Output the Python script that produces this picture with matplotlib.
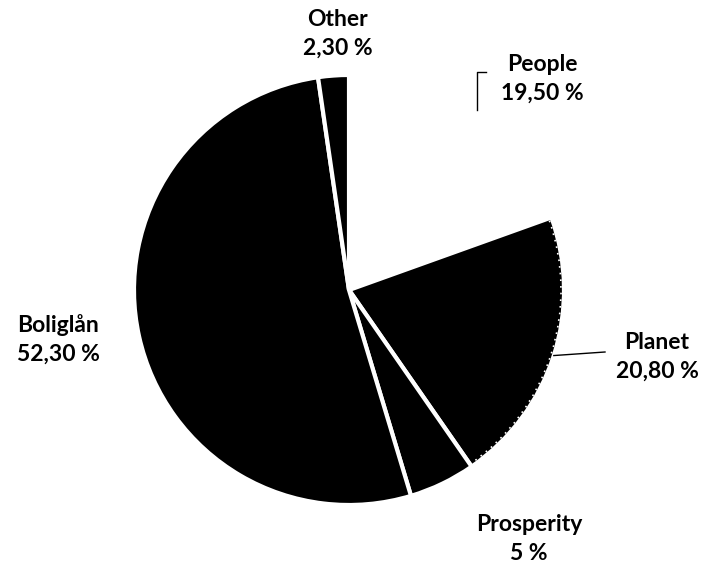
import numpy as np
import matplotlib.pyplot as plt
from matplotlib.patches import Wedge

# data
categories = ['People', 'Planet', 'Prosperity', 'Boliglån', 'Other']
shares = [19.5, 20.8, 5.0, 52.3, 2.3]
share_labels = ['19,50 %', '20,80 %', '5 %', '52,30 %', '2,30 %']
colors = ['white', 'black', 'black', 'black', 'black']
explode = [0, 10, 0, 0, 0]

plt.rcParams['font.family'] = ['Lato', 'DejaVu Sans']

fig = plt.figure(figsize=(7.06, 5.64), dpi=100)
ax = fig.add_axes([0, 0, 1, 1])

cx, cy, r = 349, 274, 215
wedges, _ = ax.pie(shares, colors=colors, startangle=90, counterclock=False,
                   center=(cx, cy), radius=r, explode=[e / r for e in explode],
                   wedgeprops=dict(edgecolor='white', linewidth=3), frame=True)
ax.set_xlim(0, 706)
ax.set_ylim(0, 564)
ax.axis('off')

# speckled edge on the Planet slice
pw = wedges[1]
ax.add_patch(Wedge(pw.center, pw.r - 3, pw.theta1, pw.theta2, fill=False,
                   edgecolor='white', linewidth=1.2, linestyle=(0, (1, 3))))

# label positions (text centres)
label_pos = {'People': (542, 485), 'Planet': (657, 207), 'Prosperity': (529, 25),
             'Boliglån': (58, 225), 'Other': (338, 530)}
for name, lab in zip(categories, share_labels):
    x, y = label_pos[name]
    ax.text(x, y, name + '\n' + lab, ha='center', va='center', fontsize=16.5,
            fontweight='bold', color='black', linespacing=1.45)

# leader lines
def edge_point(w):
    a = np.deg2rad((w.theta1 + w.theta2) / 2)
    return w.center[0] + w.r * np.cos(a), w.center[1] + w.r * np.sin(a)

px, py = edge_point(wedges[0])
ax.plot([px + 4, px + 4, px + 13], [py + 4, 492, 492], color='black', lw=1)
qx, qy = edge_point(wedges[1])
ax.plot([qx, 605], [qy, 212], color='black', lw=1)

fig.savefig('out.png', dpi=100)
